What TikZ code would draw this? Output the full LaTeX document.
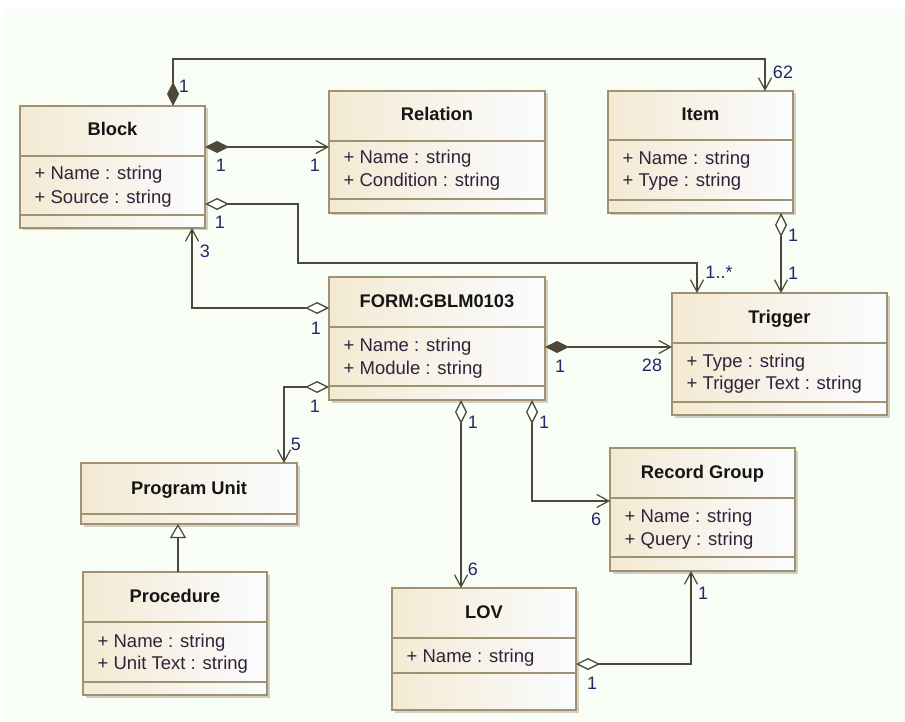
\documentclass[tikz,border=0pt]{standalone}
\usepackage{fontspec}
\setmainfont{Liberation Sans}
\usetikzlibrary{arrows.meta,calc}

\definecolor{pagebg}{HTML}{F8FDF6}
\definecolor{boxline}{HTML}{A09270}
\definecolor{boxleft}{HTML}{F4EAD3}
\definecolor{boxright}{HTML}{FAFCFF}
\definecolor{boxshade}{HTML}{CFCFC6}
\definecolor{connline}{HTML}{4D4838}
\definecolor{multtext}{HTML}{2A2466}
\definecolor{attrtext}{HTML}{33203A}
\definecolor{titletext}{HTML}{151515}

\tikzset{
  umlclass/.style={draw=boxline, line width=1.3pt, left color=boxleft, right color=boxright,
    inner sep=0pt, outer sep=0pt},
  umlsep/.style={draw=boxline, line width=1.2pt},
  boxshadow/.style={fill=boxshade},
  classtitle/.style={font=\fontsize{18.3}{22}\selectfont\bfseries, text=titletext,
    inner sep=0pt, anchor=base},
  attr/.style={font=\fontsize{18.5}{22}\selectfont, text=attrtext, inner sep=0pt, anchor=base west},
  mult/.style={font=\fontsize{18}{22}\selectfont, text=multtext, inner sep=0pt},
  conn/.style={draw=connline, line width=1.3pt},
  barb/.tip={Straight Barb[length=12pt,width=13pt,line width=1.2pt]},
  compo/.style={conn, arrows={Diamond[length=24pt,width=12pt,fill=connline]-barb}},
  aggr/.style={conn, arrows={Diamond[length=24pt,width=12pt,fill=white]-barb}},
  general/.style={conn, arrows={-Triangle[length=14pt,width=16pt,fill=white,line width=1.2pt]}},
}

% #1 name, #2 left, #3 top, #4 right, #5 bottom, #6 header line, #7 title, #8 title baseline
\newcommand\classbox[8]{%
  \pgfmathsetmacro\boxw{#4-#2}%
  \pgfmathsetmacro\boxh{#5-#3}%
  \fill[boxshadow] (#2+2.5,#3+2.5) rectangle (#4+2.5,#5+2.5);
  \node[umlclass, minimum width=\boxw pt, minimum height=\boxh pt, anchor=north west] (#1) at (#2,#3) {};
  \draw[umlsep] (#2,#6) -- (#4,#6);
  \pgfmathsetmacro\boxmid{(#2+#4)/2}%
  \node[classtitle] (#1-title) at (\boxmid,#8) {#7};
}

\begin{document}
\begin{tikzpicture}[x=1pt,y=-1pt]
\useasboundingbox (0,0) rectangle (905,722);
\fill[white] (0,0) rectangle (905,722);
\fill[pagebg] (3,9) rectangle (905,722);

% ---- classes ----
\classbox{block}{20}{106}{205}{228}{156}{Block}{136}
\draw[umlsep] (20,215) -- (205,215);
\node[attr] (block-a1) at (34.5,180) {+ Name : string};
\node[attr] (block-a2) at (34.5,204) {+ Source : string};

\classbox{relation}{329}{91}{545}{213}{141}{Relation}{121}
\draw[umlsep] (329,199) -- (545,199);
\node[attr] (relation-a1) at (343.5,164) {+ Name : string};
\node[attr] (relation-a2) at (343.5,187) {+ Condition : string};

\classbox{item}{608}{91}{793}{213}{140}{Item}{121}
\draw[umlsep] (608,200) -- (793,200);
\node[attr] (item-a1) at (622.5,165) {+ Name : string};
\node[attr] (item-a2) at (622.5,187) {+ Type : string};

\classbox{form}{329}{277}{545}{400}{327}{FORM:GBLM0103}{307}
\draw[umlsep] (329,386) -- (545,386);
\node[attr] (form-a1) at (343.5,351) {+ Name : string};
\node[attr] (form-a2) at (343.5,374) {+ Module : string};

\classbox{trigger}{672}{293}{887}{415}{343}{Trigger}{323}
\draw[umlsep] (672,402) -- (887,402);
\node[attr] (trigger-a1) at (686.5,367) {+ Type : string};
\node[attr] (trigger-a2) at (686.5,389) {+ Trigger Text : string};

\classbox{pu}{81}{463}{297}{524}{514}{Program Unit}{494}

\classbox{procedure}{83}{572}{267}{695}{622}{Procedure}{602}
\draw[umlsep] (83,682) -- (267,682);
\node[attr] (procedure-a1) at (97.5,647) {+ Name : string};
\node[attr] (procedure-a2) at (97.5,669) {+ Unit Text : string};

\classbox{rg}{610}{448}{795}{571}{498}{Record Group}{478}
\draw[umlsep] (610,557) -- (795,557);
\node[attr] (rg-a1) at (624.5,522) {+ Name : string};
\node[attr] (rg-a2) at (624.5,545) {+ Query : string};

\classbox{lov}{392}{588}{576}{710}{638}{LOV}{618}
\draw[umlsep] (392,673) -- (576,673);
\node[attr] (lov-a1) at (406.5,662) {+ Name : string};

% ---- associations ----
\draw[compo] ($(block.north west)+(153,0)$) |- ($(item.north west)+(157,-32)$)
  -- ($(item.north west)+(157,0)$);
\draw[compo] ($(block.north east)+(0,41)$) -- ($(relation.north west)+(0,56)$);
\draw[aggr] ($(block.north east)+(0,98)$) -| ($(block.north east)+(93,157)$)
  -| ($(trigger.north west)+(25,0)$);
\draw[aggr] ($(form.north west)+(0,31)$) -| ($(block.south west)+(172,0)$);
\draw[compo] ($(form.north east)+(0,70)$) -- ($(trigger.north west)+(0,54)$);
\draw[aggr] ($(item.south west)+(173,0)$) -- ($(trigger.north west)+(109,0)$);
\draw[aggr] ($(form.north west)+(0,110)$) -| ($(pu.north west)+(203,0)$);
\coordinate (gen-foot) at ($(procedure.north west)+(95,0)$);
\draw[general] (gen-foot) -- (gen-foot |- pu.south);
\draw[aggr] ($(form.south west)+(132,0)$) -- ($(lov.north west)+(69,0)$);
\draw[aggr] ($(form.south west)+(203,0)$) |- ($(rg.north west)+(0,53)$);
\draw[aggr] ($(lov.north east)+(0,76)$) -| ($(rg.south west)+(81,0)$);

% ---- multiplicities ----
\node[mult] (m-block-top) at (184,86) {1};
\node[mult] (m-item-top) at (783,72) {62};
\node[mult] (m-block-rel) at (221,165) {1};
\node[mult] (m-rel) at (315,165) {1};
\node[mult] (m-block-agg) at (220,222) {1};
\node[mult] (m-trig-top) at (719,272) {1..*};
\node[mult] (m-block-bot) at (205,251) {3};
\node[mult] (m-form-left) at (316,328) {1};
\node[mult] (m-form-right) at (560,366) {1};
\node[mult] (m-trig-left) at (652,365) {28};
\node[mult] (m-item-bot) at (793,235) {1};
\node[mult] (m-trig-item) at (793,273) {1};
\node[mult] (m-form-pu) at (315,406) {1};
\node[mult] (m-pu) at (296,444) {5};
\node[mult] (m-form-lov) at (473,422) {1};
\node[mult] (m-form-rg) at (544,422) {1};
\node[mult] (m-lov-top) at (473,569) {6};
\node[mult] (m-rg-left) at (596,519) {6};
\node[mult] (m-lov-right) at (592,683) {1};
\node[mult] (m-rg-bot) at (703,593) {1};
\end{tikzpicture}
\end{document}
